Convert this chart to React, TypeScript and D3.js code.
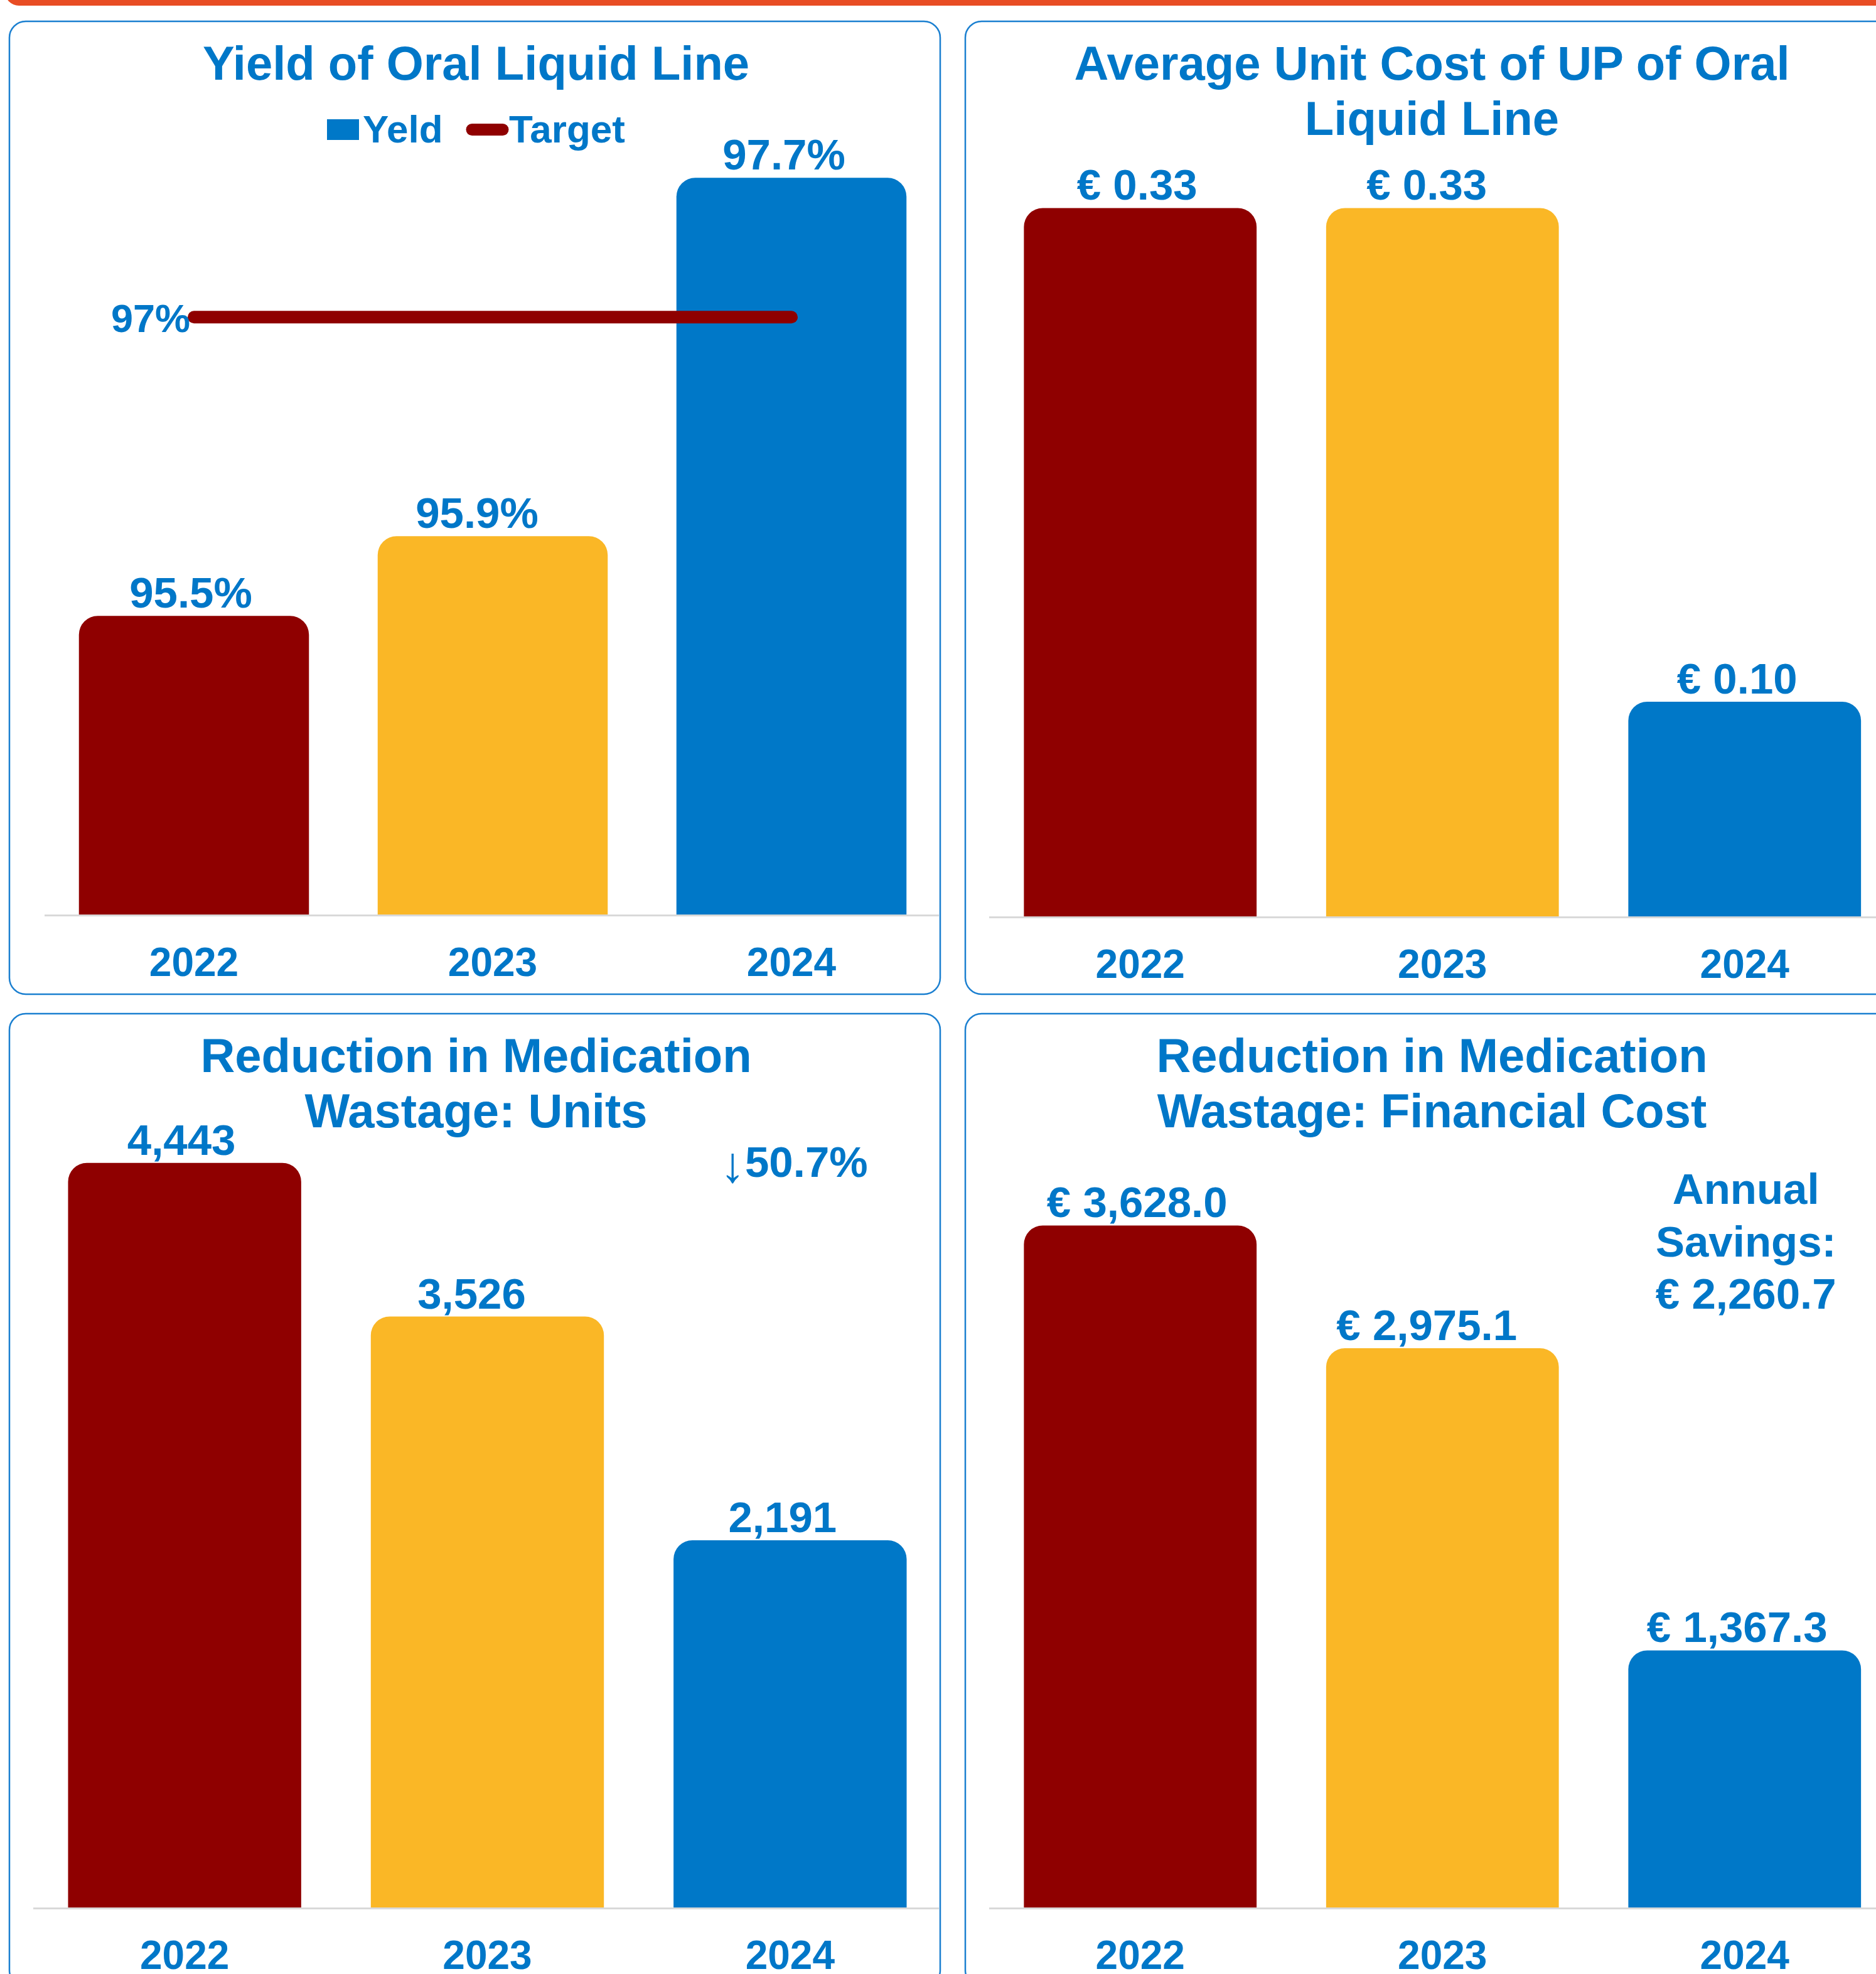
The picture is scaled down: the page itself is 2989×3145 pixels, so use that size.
import * as d3 from "d3";

const years = ["2022", "2023", "2024"];
const barColors = ["#8F0000", "#FAB726", "#0078C8"];

const yieldValues = [95.5, 95.9, 97.7];
const yieldTarget = 97;
const unitCostValues = [0.33, 0.33, 0.1];
const wastageUnits = [4443, 3526, 2191];
const wastageCost = [3628.0, 2975.1, 1367.3];

const unitsDrop = "50.7%";
const savingsLines = ["Annual", "Savings:", "€ 2,260.7"];

const FONT = "'Liberation Sans', Arial, Helvetica, sans-serif";
const BLUE_TEXT = "#0077C8";
const TARGET_COLOR = "#8F0000";
const W = 2989;
const H = 3145;

// small manual nudges the original labels had
const LABEL_DX = [-5, -25, -12];
const LABEL_GAP = 13;

const fmtPct = (d: number) => d.toFixed(1) + "%";
const fmtEuro2 = (d: number) => "€ " + d3.format(".2f")(d);
const fmtUnits = d3.format(",");
const fmtEuro1 = (d: number) => "€ " + d3.format(",.1f")(d);

function topRoundedBar(x: number, y: number, w: number, y0: number, r: number) {
  const rr = Math.min(r, w / 2, (y0 - y) / 2);
  return `M${x},${y0}V${y + rr}A${rr},${rr} 0 0 1 ${x + rr},${y}H${x + w - rr}A${rr},${rr} 0 0 1 ${x + w},${y + rr}V${y0}Z`;
}

type PanelProps = {
  px: number;
  py: number;
  title: string[];
  values: number[];
  fmt: (d: number) => string;
  xRange: [number, number];
  yDomain: [number, number];
  yRange: [number, number];
  children?: (x: d3.ScaleBand<string>, y: d3.ScaleLinear<number, number>) => any;
};

const PW = 1483;
const PH = 1550;

function Panel({ px, py, title, values, fmt, xRange, yDomain, yRange, children }: PanelProps) {
  const x = d3.scaleBand<string>().domain(years).range(xRange).paddingInner(0.23).paddingOuter(0.115);
  const y = d3.scaleLinear().domain(yDomain).range(yRange);
  const base = yRange[0];
  const cx = px + PW / 2 + 2;

  return (
    <g>
      <rect x={px} y={py} width={PW} height={PH} rx={26} fill="#fff" stroke="#1A7FD0" strokeWidth={2.5} />
      {title.map((t, i) => (
        <text key={t} x={cx} y={py + 93 + i * 88} textAnchor="middle" fontSize={76} fontWeight="bold" fill={BLUE_TEXT} fontFamily={FONT}>
          {t}
        </text>
      ))}
      <line x1={xRange[0]} x2={Math.min(xRange[1], px + PW - 2)} y1={base + 1.5} y2={base + 1.5} stroke="#D9D9D9" strokeWidth={3} />
      {values.map((v, i) => {
        const bx = x(years[i])!;
        const bw = x.bandwidth();
        const top = y(v);
        return (
          <g key={years[i]}>
            <path d={topRoundedBar(bx, top, bw, base, 30)} fill={barColors[i]} />
            <text x={bx + bw / 2 + LABEL_DX[i]} y={top - LABEL_GAP} textAnchor="middle" fontSize={69} fontWeight="bold" fill={BLUE_TEXT} fontFamily={FONT}>
              {fmt(v)}
            </text>
            <text x={bx + bw / 2} y={base + 98} textAnchor="middle" fontSize={64} fontWeight="bold" fill={BLUE_TEXT} fontFamily={FONT}>
              {years[i]}
            </text>
          </g>
        );
      })}
      {children ? children(x, y) : null}
    </g>
  );
}

export default function App() {
  return (
    <div style={{ position: "absolute", left: 0, top: 0 }}>
      <svg width={W} height={H} style={{ display: "block", background: "#fff" }}>
        <rect x={8} y={-40} width={3010} height={49} rx={22} fill="#E84D24" />

        <Panel
          px={15}
          py={34}
          title={["Yield of Oral Liquid Line"]}
          values={yieldValues}
          fmt={fmtPct}
          xRange={[71, 1499]}
          yDomain={[94, 98]}
          yRange={[1457, 188]}
        >
          {(x, y) => {
            const x1 = x(years[0])! + x.bandwidth() / 2;
            const x2 = x(years[2])! + x.bandwidth() / 2;
            const ty = y(yieldTarget);
            return (
              <g>
                <line x1={x1} x2={x2} y1={ty} y2={ty} stroke={TARGET_COLOR} strokeWidth={20} strokeLinecap="round" />
                <text x={x1 - 6} y={ty + 24} textAnchor="end" fontSize={63} fontWeight="bold" fill={BLUE_TEXT} fontFamily={FONT}>
                  {yieldTarget}%
                </text>
                {/* legend */}
                <rect x={521} y={190} width={51} height={33} fill={barColors[2]} />
                <text x={578} y={227} fontSize={62} fontWeight="bold" fill={BLUE_TEXT} fontFamily={FONT}>
                  Yeld
                </text>
                <line x1={752} x2={801} y1={206.5} y2={206.5} stroke={TARGET_COLOR} strokeWidth={19} strokeLinecap="round" />
                <text x={811} y={227} fontSize={62} fontWeight="bold" fill={BLUE_TEXT} fontFamily={FONT}>
                  Target
                </text>
              </g>
            );
          }}
        </Panel>

        <Panel
          px={1538}
          py={34}
          title={["Average Unit Cost of UP of Oral", "Liquid Line"]}
          values={unitCostValues}
          fmt={fmtEuro2}
          xRange={[1576, 3020.5]}
          yDomain={[0, 0.35]}
          yRange={[1460, 263]}
        />

        <Panel
          px={15}
          py={1615}
          title={["Reduction in Medication", "Wastage: Units"]}
          values={wastageUnits}
          fmt={fmtUnits}
          xRange={[53, 1500]}
          yDomain={[0, 5000]}
          yRange={[3039, 1704]}
        >
          {(x) => (
            <text x={x(years[2])! + x.bandwidth() / 2 + 6} y={1875} textAnchor="middle" fontSize={69} fontWeight="bold" fill={BLUE_TEXT} fontFamily={FONT}>
              <tspan fontWeight="normal" fontSize={80} dy={8}>↓</tspan>
              <tspan dy={-8}>{unitsDrop}</tspan>
            </text>
          )}
        </Panel>

        <Panel
          px={1538}
          py={1615}
          title={["Reduction in Medication", "Wastage: Financial Cost"]}
          values={wastageCost}
          fmt={fmtEuro1}
          xRange={[1576, 3020.5]}
          yDomain={[0, 4000]}
          yRange={[3039, 1841]}
        >
          {(x) => (
            <text textAnchor="middle" fontSize={69} fontWeight="bold" fill={BLUE_TEXT} fontFamily={FONT}>
              {savingsLines.map((s, i) => (
                <tspan key={s} x={x(years[2])! + x.bandwidth() / 2 + 2} y={1918 + i * 83.5}>
                  {s}
                </tspan>
              ))}
            </text>
          )}
        </Panel>
      </svg>
    </div>
  );
}
